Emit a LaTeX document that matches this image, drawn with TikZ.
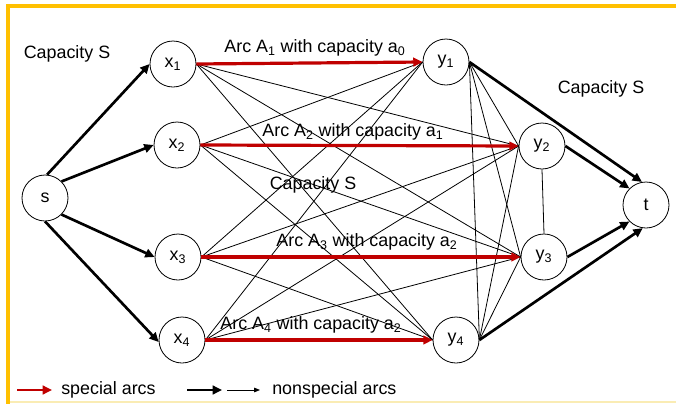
\documentclass[tikz,border=0pt]{standalone}
\usepackage{fontspec}
\setmainfont{Liberation Sans}
\usetikzlibrary{arrows.meta}
\definecolor{framegold}{RGB}{255,192,0}
\definecolor{framelight}{RGB}{250,236,180}
\definecolor{specialred}{RGB}{192,0,0}

\tikzset{
  vertex/.style={draw, circle, minimum size=34.5pt, inner sep=0pt, line width=0.6pt},
  special/.style={draw=specialred, line width=2.4pt, -{Triangle[length=7pt,width=6.5pt]}},
  bigarc/.style={line width=2pt, -{Triangle[length=7pt,width=6.5pt]}},
  smallarc/.style={line width=0.6pt},
  lbl/.style={inner sep=0.75pt},
}

\begin{document}
\begin{tikzpicture}[x=0.75pt,y=0.75pt,yscale=-1,xscale=1,font=\fontsize{13.4}{16}\selectfont]
    \useasboundingbox (0,0) rectangle (676,404);

    %Frame
    \draw [framegold, line width=2.6pt] (676,6) -- (8,6) -- (8,404);
    \draw [framelight, line width=1.2pt] (10,402) -- (676,402);

    %Nodes
    \node [vertex] (s) at (45,198) {s};
    \node [vertex] (x1) at (173,64) {x\textsubscript{1}};
    \node [vertex] (x2) at (177,145) {x\textsubscript{2}};
    \node [vertex] (x3) at (178,257) {x\textsubscript{3}};
    \node [vertex] (x4) at (182,340) {x\textsubscript{4}};
    \node [vertex] (y1) at (446,62) {y\textsubscript{1}};
    \node [vertex] (y2) at (542,146) {y\textsubscript{2}};
    \node [vertex] (y3) at (544,257) {y\textsubscript{3}};
    \node [vertex] (y4) at (456,340) {y\textsubscript{4}};
    \node [vertex] (t) at (646,205) {t};

    %Thin arcs x -> y
    \draw [smallarc] (x1.east) -- (y2.west);
    \draw [smallarc] (x1.east) -- (y3.west);
    \draw [smallarc] (x1.east) -- (y4.west);
    \draw [smallarc] (x2.east) -- (y1.west);
    \draw [smallarc] (x2.east) -- (y3.west);
    \draw [smallarc] (x2.east) -- (y4.west);
    \draw [smallarc] (x3.east) -- (y1.west);
    \draw [smallarc] (x3.east) -- (y2.west);
    \draw [smallarc] (x3.east) -- (y4.west);
    \draw [smallarc] (x4.east) -- (y1.west);
    \draw [smallarc] (x4.east) -- (y2.west);
    \draw [smallarc] (x4.east) -- (y3.west);
    %Thin arcs among y
    \draw [smallarc] (y1.east) -- (y2.west);
    \draw [smallarc] (y1.east) -- (y3.west);
    \draw [smallarc] (y1.east) -- (y4.east);
    \draw [smallarc] (y4.east) -- (y2.west);
    \draw [smallarc] (y4.east) -- (y3.west);
    \draw [smallarc] (y2.south) -- (y3.north);

    %Special arcs
    \draw [special] (x1.east) -- (y1.west);
    \draw [special] (x2.east) -- (y2.west);
    \draw [special] (x3.east) -- (y3.west);
    \draw [special] (x4.east) -- (y4.west);

    %Source and sink arcs
    \draw [bigarc] (s.85) -- (x1.west);
    \draw [bigarc] (s.north east) -- (x2.west);
    \draw [bigarc] (s.south east) -- (x3.west);
    \draw [bigarc] (s.south) -- (x4.185);
    \draw [bigarc] (y1.east) -- (t.100);
    \draw [bigarc] (y2.east) -- (t.north west);
    \draw [bigarc] (y3.east) -- (t.south west);
    \draw [bigarc] (y4.east) -- (t.262);

    % Text Node
    \node [lbl] (capleft) at (67,54) {Capacity S};
    % Text Node
    \node [lbl] (capmid) at (313,185) {Capacity S};
    % Text Node
    \node [lbl] (capright) at (601,89) {Capacity S};
    % Text Node
    \node [lbl] (arcA1) at (315,48) {Arc A\textsubscript{1} with capacity a\textsubscript{0}};
    % Text Node
    \node [lbl] (arcA2) at (353,132) {Arc A\textsubscript{2} with capacity a\textsubscript{1}};
    % Text Node
    \node [lbl] (arcA3) at (367,242) {Arc A\textsubscript{3} with capacity a\textsubscript{2}};
    % Text Node
    \node [lbl] (arcA4) at (311,325) {Arc A\textsubscript{4} with capacity a\textsubscript{2}};

    %Legend
    \coordinate (redfrom) at (17,390);
    \coordinate (redto) at (52,390);
    \coordinate (thickfrom) at (187,390);
    \coordinate (thickto) at (222,390);
    \coordinate (thinfrom) at (227,390);
    \coordinate (thinto) at (260,390);
    \draw [special, line width=2pt] (redfrom) -- (redto);
    \draw [bigarc] (thickfrom) -- (thickto);
    \draw [smallarc, -{Triangle[length=4.5pt,width=3.5pt]}] (thinfrom) -- (thinto);
    \node [lbl, anchor=west] (speciallbl) at (60,390) {special arcs};
    \node [lbl, anchor=west] (nonspeciallbl) at (271,390) {nonspecial arcs};

\end{tikzpicture}
\end{document}
